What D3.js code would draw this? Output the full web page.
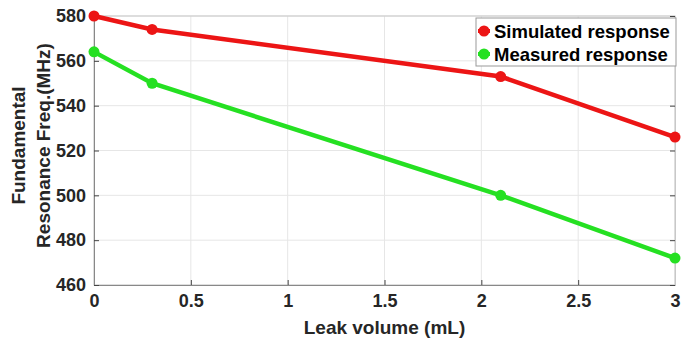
<!DOCTYPE html>
<html>
<head>
<meta charset="utf-8">
<script src="https://cdn.jsdelivr.net/npm/d3@7"></script>
<style>
  body { margin: 0; background: #fff; }
  svg { display: block; font-family: 'Liberation Sans', Arial, sans-serif; }
</style>
</head>
<body>
<div id="chart"></div>
<script>
const leakVolume = [0, 0.3, 2.1, 3];
const simulated = [580, 574, 553, 526];
const measured = [564, 550, 500, 472];
const xTicks = [0, 0.5, 1, 1.5, 2, 2.5, 3];
const yTicks = [460, 480, 500, 520, 540, 560, 580];
const seriesNames = ['Simulated response', 'Measured response'];
const seriesColors = ['#ec1515', '#25e022'];

const width = 681, height = 340;
const margin = { left: 94, right: 6, top: 16, bottom: 55 };
const innerW = width - margin.left - margin.right;
const innerH = height - margin.top - margin.bottom;

const svg = d3.select('#chart').append('svg')
  .attr('width', width)
  .attr('height', height);

const g = svg.append('g')
  .attr('transform', `translate(${margin.left},${margin.top})`);

const x = d3.scaleLinear().domain([0, 3]).range([0, innerW]);
const y = d3.scaleLinear().domain([460, 580]).range([innerH, 0]);

// grid
g.append('g')
  .selectAll('line')
  .data(xTicks)
  .join('line')
  .attr('x1', d => x(d)).attr('x2', d => x(d))
  .attr('y1', 0).attr('y2', innerH)
  .attr('stroke', '#e6e6e6');
g.append('g')
  .selectAll('line')
  .data(yTicks)
  .join('line')
  .attr('x1', 0).attr('x2', innerW)
  .attr('y1', d => y(d)).attr('y2', d => y(d))
  .attr('stroke', '#e6e6e6');

// box
g.append('rect')
  .attr('width', innerW).attr('height', innerH)
  .attr('fill', 'none')
  .attr('stroke', '#c8c8c8');

// axes
const xAxis = g.append('g')
  .attr('transform', `translate(0,${innerH})`)
  .call(d3.axisBottom(x).tickValues(xTicks).tickFormat(d3.format('')).tickSizeInner(-5).tickSizeOuter(0).tickPadding(9));
const yAxis = g.append('g')
  .call(d3.axisLeft(y).tickValues(yTicks).tickSizeInner(-5).tickSizeOuter(0).tickPadding(8));
const yAxisRight = g.append('g')
  .attr('transform', `translate(${innerW},0)`)
  .call(d3.axisRight(y).tickValues(yTicks).tickSizeInner(-5).tickSizeOuter(0).tickFormat(''));

[xAxis, yAxis, yAxisRight].forEach(a => {
  a.select('.domain').attr('stroke', '#888');
  a.selectAll('.tick line').attr('stroke', '#444');
  a.selectAll('.tick text')
    .attr('fill', '#262626')
    .attr('font-size', '18px')
    .attr('font-weight', 'bold');
});
yAxisRight.select('.domain').attr('stroke', '#c8c8c8');

// series
const allSeries = [simulated, measured];
const line = d3.line()
  .x((d, i) => x(leakVolume[i]))
  .y(d => y(d));

allSeries.forEach((values, si) => {
  g.append('path')
    .datum(values)
    .attr('fill', 'none')
    .attr('stroke', seriesColors[si])
    .attr('stroke-width', 4.5)
    .attr('d', line);
  g.append('g')
    .selectAll('circle')
    .data(values)
    .join('circle')
    .attr('cx', (d, i) => x(leakVolume[i]))
    .attr('cy', d => y(d))
    .attr('r', 5.5)
    .attr('fill', seriesColors[si]);
});

// legend
const legend = svg.append('g').attr('transform', 'translate(476,18)');
legend.append('rect')
  .attr('width', 200).attr('height', 48)
  .attr('fill', '#fff')
  .attr('stroke', '#999');
seriesNames.forEach((name, i) => {
  const row = legend.append('g').attr('transform', `translate(0,${13 + i * 23})`);
  row.append('line')
    .attr('x1', 2).attr('x2', 14)
    .attr('stroke', seriesColors[i]).attr('stroke-width', 4);
  row.append('circle')
    .attr('cx', 8).attr('r', 5.5)
    .attr('fill', seriesColors[i]);
  row.append('text')
    .attr('x', 18).attr('y', 6.5)
    .attr('font-size', '18.5px')
    .attr('font-weight', 'bold')
    .attr('fill', '#000')
    .text(name);
});

// axis labels
svg.append('text')
  .attr('x', margin.left + innerW / 2)
  .attr('y', 334)
  .attr('text-anchor', 'middle')
  .attr('font-size', '19px')
  .attr('font-weight', 'bold')
  .attr('fill', '#262626')
  .text('Leak volume (mL)');

const yLabel = svg.append('text')
  .attr('transform', `translate(25,${margin.top + innerH / 2 - 5}) rotate(-90)`)
  .attr('text-anchor', 'middle')
  .attr('font-size', '19px')
  .attr('font-weight', 'bold')
  .attr('fill', '#262626');
yLabel.append('tspan').attr('x', 0).attr('dy', 0).text('Fundamental');
yLabel.append('tspan').attr('x', 0).attr('dy', 25).text('Resonance Freq.(MHz)');
</script>
</body>
</html>
